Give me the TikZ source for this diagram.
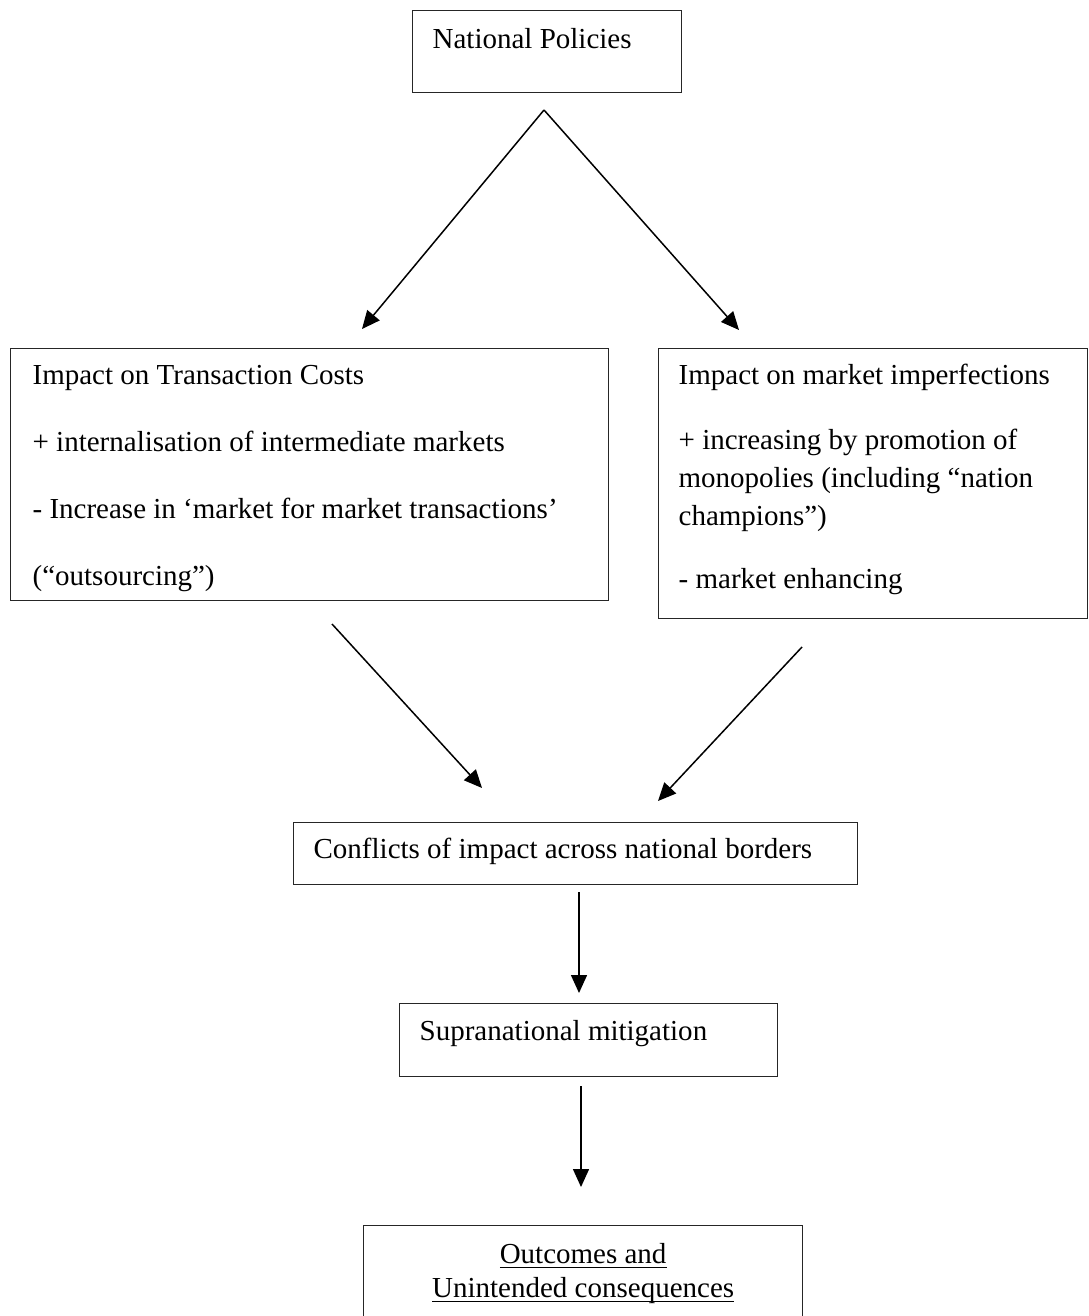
\documentclass[tikz,border=0pt]{standalone}
\usepackage{fontspec}
\setmainfont{Liberation Serif}
\usetikzlibrary{arrows.meta}
\newcommand\myul[1]{\leavevmode\setbox0\hbox{#1}\rlap{\rule[-4.5pt]{\wd0}{1.6pt}}\box0}
\newcommand\bxt[4]{\parbox[t][#2][t]{#1}{\raggedright\leftskip=#3\relax #4}}
\tikzset{
  box/.style={draw=black!85, line width=1.3pt, inner sep=0pt, anchor=north west},
  arr/.style={draw=black, line width=1.5pt, -{Triangle[length=18pt,width=16pt]}}
}
\begin{document}
\begin{tikzpicture}[x=1pt,y=-1pt,font=\fontsize{29}{38}\selectfont]
\useasboundingbox (0,0) rectangle (1088,1316);
\fill[white] (0,0) rectangle (1088,1316);
\clip (0,0) rectangle (1088,1316);

\node[box] (np) at (412,10) {\bxt{269pt}{82pt}{20pt}{\rule{0pt}{38pt}National Policies}};

\node[box] (tc) at (10,348) {\bxt{598pt}{252pt}{22pt}{\rule{0pt}{36pt}Impact on Transaction Costs\\[29pt]
+ internalisation of intermediate markets\\[29pt]
- Increase in ‘market for market transactions’\\[29pt]
(“outsourcing”)}};

\node[box] (mi) at (658,348) {\bxt{429pt}{270pt}{20pt}{\rule{0pt}{36pt}Impact on market imperfections\\[27pt]
+ increasing by promotion of\\
monopolies (including “nation\\
champions”)\\[25pt]
- market enhancing}};

\node[box] (cf) at (293,822) {\bxt{564pt}{62pt}{20pt}{\rule{0pt}{36pt}Conflicts of impact across national borders}};

\node[box] (sm) at (399,1003) {\bxt{378pt}{73pt}{20pt}{\rule{0pt}{37pt}Supranational mitigation}};

\node[box] (oc) at (363,1225) {\parbox[t][120pt][t]{439pt}{\centering\rule{0pt}{38pt}\myul{Outcomes and}\\[-4pt]\myul{Unintended consequences}}};

\coordinate (apex) at (544,110);
\coordinate (a1e) at (362,329);
\coordinate (a2e) at (739,330);
\coordinate (a3s) at (332,624);
\coordinate (a3e) at (482,788);
\coordinate (a4s) at (802,647);
\coordinate (a4e) at (658,801);
\coordinate (a5s) at (579,892);
\coordinate (a5e) at (579,993);
\coordinate (a6s) at (581,1086);
\coordinate (a6e) at (581,1187);

\draw[arr] (apex) -- (a1e);
\draw[arr] (apex) -- (a2e);
\draw[arr] (a3s) -- (a3e);
\draw[arr] (a4s) -- (a4e);
\draw[arr] (a5s) -- (a5e);
\draw[arr] (a6s) -- (a6e);
\end{tikzpicture}
\end{document}
